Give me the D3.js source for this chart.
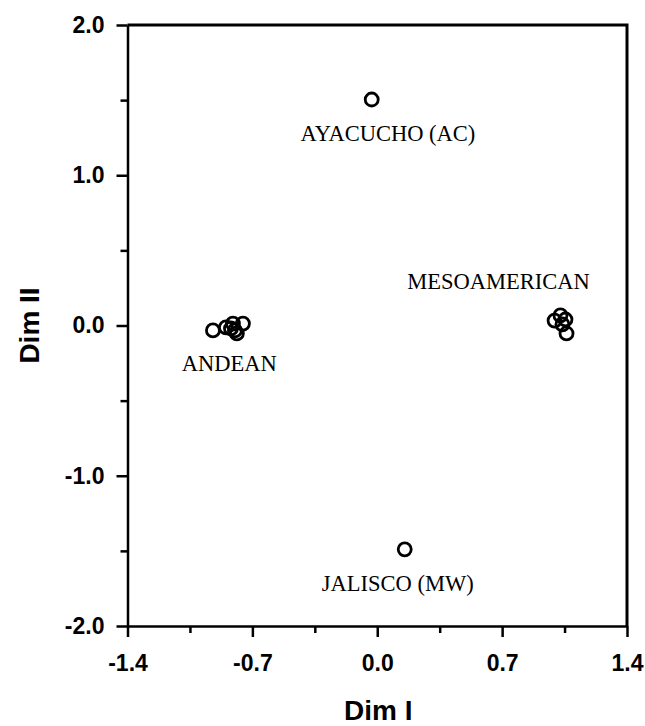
<!DOCTYPE html>
<html>
<head>
<meta charset="utf-8">
<script src="https://cdn.jsdelivr.net/npm/d3@7"></script>
<style>
  html, body { margin: 0; padding: 0; background: #fff; }
  svg { display: block; }
</style>
</head>
<body>
<div id="chart"></div>
<script>
// Multidimensional scaling configuration: Dim I vs Dim II
const dimI  = [-0.921, -0.848, -0.809, -0.820, -0.798, -0.787, -0.753,
                0.994,  1.027,  1.055,  1.038,  1.061,
               -0.031,  0.154];
const dimII = [-0.033, -0.013,  0.013, -0.020, -0.033, -0.053,  0.013,
                0.033,  0.067,  0.040,  0.007, -0.053,
                1.504, -1.490];

// Group labels and where they sit in data units
const groupNames = ["AYACUCHO (AC)", "MESOAMERICAN", "ANDEAN", "JALISCO (MW)"];
const groupX     = [0.06, 0.68, -0.83, 0.115];
const groupY     = [1.23, 0.24, -0.30, -1.77];

const xTicks      = [-1.4, -0.7, 0.0, 0.7, 1.4];
const xMinorTicks = [-1.05, -0.35, 0.35, 1.05];
const yTicks      = [-2.0, -1.0, 0.0, 1.0, 2.0];
const yMinorTicks = [-1.5, -0.5, 0.5, 1.5];

const W = 645, H = 726;
const plotL = 127.5, plotR = 627, plotT = 25, plotB = 626;

const svg = d3.select("#chart").append("svg")
  .attr("width", W).attr("height", H);

const x = d3.scaleLinear().domain([-1.4, 1.4]).range([plotL, plotR]);
const y = d3.scaleLinear().domain([-2, 2]).range([plotB, plotT]);

const fmt = d => d.toFixed(1);
const tickFont = "'Liberation Sans', Arial, sans-serif";

// frame: top and right edges
svg.append("path")
  .attr("d", `M${plotL},${plotT}H${plotR}V${plotB}`)
  .attr("fill", "none").attr("stroke", "#000").attr("stroke-width", 3);

// x axis
svg.append("g").attr("transform", `translate(0,${plotB})`)
  .call(d3.axisBottom(x).tickValues(xTicks).tickFormat(fmt)
    .tickSize(11).tickSizeOuter(0).tickPadding(18));
svg.append("g").attr("transform", `translate(0,${plotB})`)
  .call(d3.axisBottom(x).tickValues(xMinorTicks).tickFormat("")
    .tickSize(7).tickSizeOuter(0))
  .call(g => g.select(".domain").remove());

// y axis
svg.append("g").attr("transform", `translate(${plotL},0)`)
  .call(d3.axisLeft(y).tickValues(yTicks).tickFormat(fmt)
    .tickSize(11).tickSizeOuter(0).tickPadding(12));
svg.append("g").attr("transform", `translate(${plotL},0)`)
  .call(d3.axisLeft(y).tickValues(yMinorTicks).tickFormat("")
    .tickSize(7).tickSizeOuter(0))
  .call(g => g.select(".domain").remove());

svg.selectAll(".domain").attr("stroke-width", 2.5);
svg.selectAll(".tick line").attr("stroke-width", 2.5);
svg.selectAll(".tick text")
  .attr("font-family", tickFont).attr("font-weight", "bold")
  .attr("font-size", 23).attr("fill", "#000");

// axis titles
svg.append("text")
  .attr("x", (plotL + plotR) / 2 + 1).attr("y", 720)
  .attr("text-anchor", "middle")
  .attr("font-family", tickFont).attr("font-weight", "bold")
  .attr("font-size", 28).text("Dim I");

svg.append("text")
  .attr("transform", `translate(39,${(plotT + plotB) / 2}) rotate(-90)`)
  .attr("text-anchor", "middle")
  .attr("font-family", tickFont).attr("font-weight", "bold")
  .attr("font-size", 28).text("Dim II");

// points
svg.append("g").selectAll("circle")
  .data(dimI.map((d, i) => [d, dimII[i]]))
  .join("circle")
  .attr("cx", d => x(d[0])).attr("cy", d => y(d[1]))
  .attr("r", 6.5)
  .attr("fill", "none").attr("stroke", "#000").attr("stroke-width", 2.8);

// group labels
svg.append("g").selectAll("text")
  .data(groupNames)
  .join("text")
  .attr("x", (d, i) => x(groupX[i])).attr("y", (d, i) => y(groupY[i]))
  .attr("text-anchor", "middle")
  .attr("font-family", "'Liberation Serif', 'Times New Roman', serif")
  .attr("font-size", 22.5).attr("fill", "#000")
  .text(d => d);
</script>
</body>
</html>
